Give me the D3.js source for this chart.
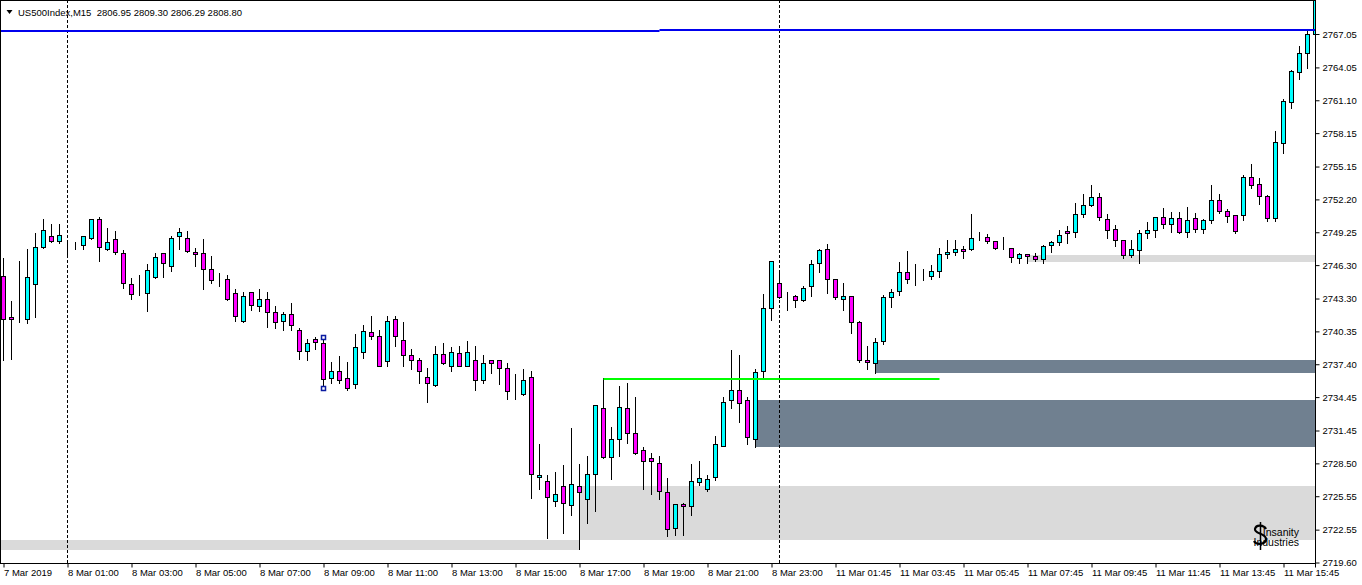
<!DOCTYPE html>
<html>
<head>
<meta charset="utf-8">
<script src="https://cdnjs.cloudflare.com/ajax/libs/d3/7.8.5/d3.min.js"></script>
<style>
html,body{margin:0;padding:0;background:#fff;overflow:hidden;}
svg{display:block;}
text{font-family:"Liberation Sans",Arial,sans-serif;}
</style>
</head>
<body>
<svg id="chart" width="1362" height="585"></svg>
<script>
// ---------------- DATA ----------------
const symbolTitle = "US500Index,M15  2806.95 2809.30 2806.29 2808.80";

const opens = [2745.32,2741.67,2741.48,2741.49,2744.63,2747.92,2748.89,2748.44,2748.19,2748.07,
2748.07,2748.71,2750.41,2747.72,2748.62,2747.36,2744.58,2743.64,2743.82,2745.20,
2747.36,2746.19,2748.89,2748.71,2747.45,2747.36,2745.92,2745.03,2745.03,2743.77,
2741.25,2743.86,2742.60,2743.23,2742.06,2741.25,2741.88,2740.45,2738.56,2739.64,
2739.28,2736.14,2736.77,2736.14,2735.60,2738.47,2740.27,2739.91,2737.66,2741.43,
2739.55,2738.20,2737.75,2736.23,2735.51,2738.29,2737.22,2738.38,2737.22,2737.75,
2735.96,2737.75,2737.75,2737.04,2734.70,2734.70,2736.23,2727.25,2726.89,2725.10,
2726.49,2724.74,2726.49,2725.27,2727.52,2733.45,2729.04,2730.66,2733.45,2731.20,
2729.67,2728.95,2728.51,2725.90,2722.67,2724.83,2724.65,2726.80,2726.17,2727.25,
2730.09,2734.22,2735.11,2734.22,2730.66,2736.77,2742.42,2744.67,2743.44,2743.50,
2743.14,2744.40,2746.46,2747.72,2745.03,2743.23,2743.50,2741.16,2737.75,2737.48,
2739.46,2743.41,2743.95,2745.65,2745.11,2745.03,2745.29,2745.74,2747.27,2747.45,
2747.72,2747.72,2748.71,2748.80,2748.44,2747.90,2747.81,2746.91,2747.27,2747.09,
2746.82,2748.08,2748.35,2749.34,2749.25,2750.86,2751.67,2752.39,2750.41,2749.52,
2748.53,2747.18,2747.63,2749.16,2749.43,2750.59,2749.97,2750.50,2749.25,2750.50,
2749.52,2750.32,2752.12,2751.13,2750.77,2750.77,2754.18,2753.56,2752.48,2750.50,
2757.23,2760.92,2763.61,2765.32,2767.02];

const highs = [2746.94,2743.08,2746.67,2747.77,2749.18,2750.44,2749.99,2749.99,2748.28,2748.37,
2748.89,2750.45,2750.59,2749.63,2749.36,2747.63,2745.11,2745.41,2746.37,2747.39,
2747.40,2748.89,2749.63,2749.36,2747.81,2748.62,2747.09,2745.57,2745.39,2744.13,
2743.86,2743.90,2744.13,2743.86,2742.60,2742.06,2742.87,2740.63,2739.64,2739.82,
2739.85,2737.58,2738.11,2737.58,2740.11,2740.92,2741.73,2740.45,2741.73,2741.73,
2741.16,2738.74,2737.93,2737.04,2739.01,2739.28,2738.92,2739.01,2739.46,2739.01,
2738.20,2737.78,2737.78,2737.48,2736.50,2736.97,2736.80,2730.27,2727.43,2727.70,
2728.32,2731.65,2728.41,2729.13,2733.75,2736.14,2731.74,2735.42,2735.69,2734.44,
2729.94,2729.40,2729.13,2727.16,2724.85,2724.92,2728.41,2728.68,2727.43,2730.99,
2734.49,2738.71,2738.26,2734.49,2736.95,2743.68,2746.66,2745.74,2743.86,2743.59,
2744.40,2746.73,2747.72,2748.17,2745.05,2744.67,2743.52,2741.25,2739.01,2739.73,
2743.59,2744.13,2746.55,2747.54,2746.37,2745.92,2746.28,2747.81,2748.53,2748.53,
2747.99,2750.86,2749.25,2749.07,2748.46,2748.80,2747.83,2747.36,2747.29,2747.36,
2748.08,2748.44,2749.43,2749.79,2751.85,2752.66,2753.47,2752.75,2750.86,2749.88,
2748.55,2748.53,2749.43,2750.15,2750.61,2751.40,2751.04,2751.04,2751.49,2750.95,
2750.41,2753.47,2752.66,2751.31,2750.79,2754.36,2755.35,2754.09,2752.57,2758.31,
2761.19,2763.79,2765.95,2767.38,2772.00];

const lows = [2737.78,2737.87,2741.16,2741.12,2741.64,2747.86,2748.40,2748.31,2747.05,2747.72,
2747.72,2748.68,2746.69,2747.70,2747.27,2744.22,2743.23,2743.60,2742.21,2745.15,
2745.20,2745.74,2747.72,2747.45,2746.19,2744.13,2744.67,2744.40,2743.20,2741.25,
2741.20,2742.24,2742.15,2740.72,2740.63,2740.45,2740.45,2737.84,2737.75,2738.74,
2735.24,2735.69,2735.69,2735.06,2735.24,2737.93,2739.64,2737.20,2737.22,2739.01,
2737.22,2736.95,2735.69,2733.99,2735.48,2737.39,2736.77,2737.20,2737.20,2735.06,
2735.69,2736.59,2735.60,2734.26,2734.26,2734.68,2725.42,2726.23,2721.77,2724.65,
2722.22,2723.84,2720.78,2723.12,2724.20,2728.95,2727.07,2729.13,2730.30,2729.38,
2726.18,2725.73,2725.28,2721.95,2722.04,2722.04,2723.84,2726.60,2725.99,2727.00,
2730.05,2733.45,2732.24,2730.27,2729.94,2736.14,2741.35,2743.38,2742.24,2742.51,
2743.05,2743.50,2745.65,2743.77,2743.23,2742.24,2740.18,2737.57,2736.95,2736.59,
2739.19,2742.51,2743.59,2744.67,2744.49,2744.94,2745.03,2745.20,2746.91,2747.18,
2746.91,2747.63,2748.53,2748.26,2747.79,2747.72,2746.55,2746.46,2746.46,2746.64,
2746.46,2747.45,2748.08,2748.26,2748.80,2750.59,2751.58,2750.32,2748.71,2747.99,
2746.91,2747.00,2746.46,2748.71,2748.80,2749.61,2749.25,2749.16,2748.80,2749.25,
2749.16,2750.05,2750.95,2750.14,2749.16,2750.32,2753.20,2751.76,2750.23,2750.23,
2756.34,2760.38,2763.00,2763.97,2766.80];

const closes = [2741.46,2741.43,2741.48,2745.23,2747.92,2749.45,2748.44,2748.98,2748.19,2748.07,
2748.89,2750.41,2747.90,2748.35,2747.45,2744.67,2743.68,2743.64,2745.83,2747.00,
2746.46,2748.71,2749.25,2747.54,2747.27,2745.92,2744.94,2745.03,2743.23,2741.70,
2743.50,2742.69,2743.23,2742.06,2741.16,2741.88,2740.90,2738.56,2739.28,2739.37,
2736.05,2736.77,2735.96,2735.24,2738.92,2740.36,2739.91,2737.22,2741.25,2739.91,
2738.20,2737.75,2736.77,2735.69,2738.29,2737.48,2738.47,2737.22,2738.47,2735.96,
2737.48,2737.48,2737.04,2734.97,2734.70,2735.96,2727.52,2727.43,2725.45,2725.73,
2724.92,2726.62,2725.95,2727.52,2733.72,2729.04,2730.66,2733.54,2731.20,2729.40,
2728.69,2728.69,2725.99,2722.58,2724.83,2724.65,2726.89,2727.16,2727.07,2730.27,
2734.04,2735.11,2733.95,2730.89,2736.68,2742.42,2746.64,2743.41,2743.44,2743.14,
2744.22,2746.37,2747.63,2745.03,2743.41,2743.50,2741.16,2737.75,2737.57,2739.37,
2743.41,2743.86,2745.65,2745.03,2745.11,2745.03,2745.74,2747.27,2747.45,2747.72,
2747.54,2748.71,2748.71,2748.44,2747.81,2747.90,2747.00,2747.27,2747.09,2746.82,
2747.99,2748.35,2748.98,2749.16,2750.86,2751.67,2752.39,2750.59,2749.43,2748.53,
2747.18,2747.72,2749.16,2749.43,2750.59,2749.97,2750.50,2749.25,2750.32,2749.52,
2750.32,2752.12,2751.13,2750.68,2749.34,2754.18,2753.47,2752.48,2750.50,2757.32,
2761.01,2763.70,2765.32,2767.02,2771.50];

// price scale labels
const priceTicks = ["2767.05","2764.05","2761.10","2758.15","2755.15","2752.20","2749.25","2746.30","2743.30",
"2740.35","2737.40","2734.45","2731.45","2728.50","2725.55","2722.55","2719.60"];

// time axis: bar index and label
const timeTickBars = [0,8,16,24,32,40,48,56,64,72,80,88,96,104,112,120,128,136,144,152,160];
const timeTickLabels = ["7 Mar 2019","8 Mar 01:00","8 Mar 03:00","8 Mar 05:00","8 Mar 07:00","8 Mar 09:00",
"8 Mar 11:00","8 Mar 13:00","8 Mar 15:00","8 Mar 17:00","8 Mar 19:00","8 Mar 21:00","8 Mar 23:00",
"11 Mar 01:45","11 Mar 03:45","11 Mar 05:45","11 Mar 07:45","11 Mar 09:45","11 Mar 11:45",
"11 Mar 13:45","11 Mar 15:45"];

// day separators (bar index)
const separatorBars = [8, 97];

// supply / demand zones: start bar (null = chart start), top & bottom prices, kind
const zoneStart  = [null, 72, 94, 109, 128];
const zoneTop    = [2721.62, 2726.49, 2734.19, 2737.78, 2747.17];
const zoneBottom = [2720.72, 2721.65, 2729.97, 2736.61, 2746.54];
const zoneEnd    = [72, null, null, null, null];
const zoneKind   = ["light","light","dark","dark","light"];

// horizontal levels
const greenLevel = {from:75, to:117, price:2736.10};
const blueLevels = [{from:null, to:82, price:2767.30},{from:82, to:null, price:2767.40}];

// fractal markers
const fractalBar = 40;

// logo lines
const logoLines = ["Insanity", "Industries"];

// ---------------- DRAW ----------------
const W = 1362, H = 585;
const plotR = 1315.5, plotB = 563.5;
const nBars = opens.length;

const svg = d3.select("#chart");
svg.append("rect").attr("width",W).attr("height",H).attr("fill","#fff");

const x = d3.scaleLinear().domain([0, nBars-1]).range([3.5, 3.5 + 8*(nBars-1)]);
const y = d3.scaleLinear().domain([2719.60, 2767.05]).range([562.5, 34]);
const sy = v => Math.round(y(v)) + 0.5;

svg.append("defs").append("clipPath").attr("id","plotclip")
  .append("rect").attr("x",0).attr("y",0).attr("width",plotR).attr("height",plotB);

const plot = svg.append("g").attr("clip-path","url(#plotclip)");

// zones
const zones = zoneTop.map((t,i)=>({s:zoneStart[i], e:zoneEnd[i], t, b:zoneBottom[i], k:zoneKind[i]}));
plot.selectAll("rect.zone").data(zones).enter().append("rect")
  .attr("class","zone")
  .attr("x", d => d.s===null ? 0 : x(d.s)-0.5)
  .attr("width", d => (d.e===null ? plotR : x(d.e)-0.5) - (d.s===null ? 0 : x(d.s)-0.5))
  .attr("y", d => Math.round(y(d.t)))
  .attr("height", d => Math.round(y(d.b)) - Math.round(y(d.t)))
  .attr("fill", d => d.k==="dark" ? "#708090" : "#dadada");

// separators
plot.selectAll("line.sep").data(separatorBars).enter().append("line")
  .attr("x1", d=>x(d)).attr("x2", d=>x(d)).attr("y1",0).attr("y2",plotB)
  .attr("stroke","#000").attr("stroke-width",1).attr("stroke-dasharray","3,2");

// candles
const bars = d3.range(nBars).map(i=>({i, o:opens[i], h:highs[i], l:lows[i], c:closes[i]}));
const cg = plot.selectAll("g.bar").data(bars).enter().append("g").attr("class","bar");
cg.append("line")
  .attr("x1", d=>x(d.i)).attr("x2", d=>x(d.i))
  .attr("y1", d=>Math.round(y(d.h))).attr("y2", d=>Math.round(y(d.l))+1)
  .attr("stroke","#000").attr("stroke-width",1);
cg.append("rect")
  .attr("x", d=>x(d.i)-2)
  .attr("width", 4)
  .attr("y", d=>sy(Math.max(d.o,d.c)))
  .attr("height", d=>Math.max(0, sy(Math.min(d.o,d.c)) - sy(Math.max(d.o,d.c))))
  .attr("fill", d=> d.c > d.o ? "#00ffff" : (d.c < d.o ? "#ff00ff" : "#000"))
  .attr("stroke","#000").attr("stroke-width",1);

// fractal markers
const fb = bars[fractalBar];
plot.selectAll("rect.fr").data([fb.h, fb.l]).enter().append("rect")
  .attr("x", x(fractalBar)-2).attr("width",4)
  .attr("y", d=>Math.round(y(d))-2+0.5).attr("height",4)
  .attr("fill","#fff").attr("stroke","#0a1aa0").attr("stroke-width",1.5);

// green level
plot.append("line")
  .attr("x1", x(greenLevel.from)).attr("x2", x(greenLevel.to))
  .attr("y1", Math.round(y(greenLevel.price))).attr("y2", Math.round(y(greenLevel.price)))
  .attr("stroke","#00ff00").attr("stroke-width",2);

// blue levels
plot.selectAll("line.blue").data(blueLevels).enter().append("line")
  .attr("x1", d=> d.from===null ? 0 : x(d.from))
  .attr("x2", d=> d.to===null ? plotR : x(d.to))
  .attr("y1", d=>Math.round(y(d.price))).attr("y2", d=>Math.round(y(d.price)))
  .attr("stroke","#0000ee").attr("stroke-width",2);

// frame
svg.append("line").attr("x1",0).attr("x2",plotR).attr("y1",0.5).attr("y2",0.5).attr("stroke","#000");
svg.append("line").attr("x1",0.5).attr("x2",0.5).attr("y1",0).attr("y2",plotB).attr("stroke","#000");
svg.append("line").attr("x1",plotR).attr("x2",plotR).attr("y1",0).attr("y2",plotB+4).attr("stroke","#000");
svg.append("line").attr("x1",0).attr("x2",plotR).attr("y1",plotB).attr("y2",plotB).attr("stroke","#000");

// price axis
const yAxis = d3.axisRight(y)
  .tickValues(priceTicks.map(Number))
  .tickFormat((d,i)=>priceTicks[i])
  .tickSize(4).tickPadding(3);
const ya = svg.append("g").attr("transform",`translate(${plotR},0)`).call(yAxis);
ya.select(".domain").remove();
ya.selectAll(".tick line").attr("stroke","#000");
ya.selectAll(".tick text").attr("font-size","9.5px").attr("font-family","'Liberation Sans',Arial,sans-serif").attr("fill","#000");

// time axis
const xAxis = d3.axisBottom(x)
  .tickValues(timeTickBars)
  .tickFormat((d,i)=>timeTickLabels[i])
  .tickSize(4).tickPadding(2);
const xa = svg.append("g").attr("transform",`translate(0,${plotB})`).call(xAxis);
xa.select(".domain").remove();
xa.selectAll(".tick line").attr("stroke","#000");
xa.selectAll(".tick text").attr("text-anchor","start").attr("dx","0")
  .attr("font-size","9.5px").attr("font-family","'Liberation Sans',Arial,sans-serif").attr("fill","#000");

// header
svg.append("path").attr("d","M6.5,10 L12.5,10 L9.5,14 Z").attr("fill","#000");
svg.append("text").attr("x",18).attr("y",16).attr("font-size","9.5px").attr("fill","#000")
  .attr("xml:space","preserve").style("white-space","pre").text(symbolTitle);

// logo: dollar glyph as a drawn path, two text lines
const logo = svg.append("g");
logo.append("path")
  .attr("d","M1266,529 C1264,525 1256,524 1255,529 C1254,534 1266,533 1266,539 C1266,545 1256,545 1254,541")
  .attr("fill","none").attr("stroke","#000").attr("stroke-width",2.2);
logo.append("line").attr("x1",1260.5).attr("x2",1260.5).attr("y1",522).attr("y2",550)
  .attr("stroke","#000").attr("stroke-width",1.5);
logo.selectAll("text.logo").data(logoLines).enter().append("text")
  .attr("class","logo")
  .attr("x",1299).attr("y",(d,i)=>536 + i*9.5).attr("text-anchor","end")
  .attr("font-family","'DejaVu Sans',sans-serif").attr("font-size","10.5px").attr("fill","#000")
  .text(d=>d);
</script>
</body>
</html>
